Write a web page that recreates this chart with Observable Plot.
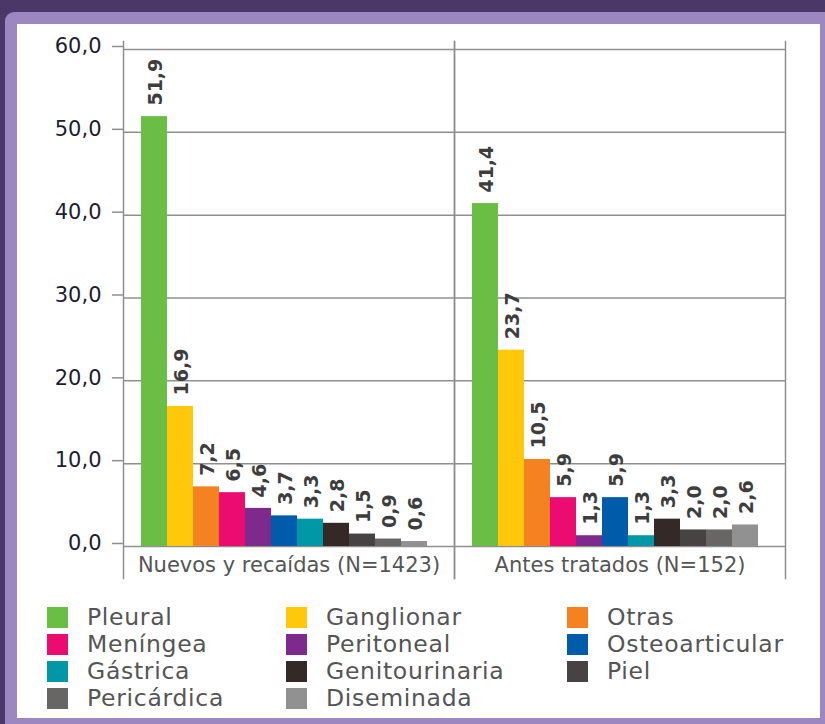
<!DOCTYPE html>
<html><head><meta charset="utf-8">
<script src="https://cdn.jsdelivr.net/npm/d3@7"></script>
<script src="https://cdn.jsdelivr.net/npm/@observablehq/plot@0.6"></script>
<style>
html,body{margin:0;padding:0}
body{background:#4b3768;width:825px;height:724px;overflow:hidden;position:relative;font-family:"DejaVu Sans",sans-serif}
#border{position:absolute;left:5px;top:12px;width:820px;height:712px;background:#9d87c1;border-top-left-radius:9px}
#panel{position:absolute;left:17px;top:24px;width:803px;height:694px;background:#fff}
#chart{position:absolute;left:0;top:0}
#legend{position:absolute;left:47px;top:604px;display:grid;grid-template-columns:239px 281px 250px;grid-auto-rows:26.9px}
.item{display:flex;align-items:center;font-size:23.5px;letter-spacing:0.7px;color:#555;white-space:nowrap}
.sw{width:21px;height:21px;margin-right:19px;flex:none}
</style>
</head><body>
<div id="border"></div><div id="panel"></div>
<div id="chart"></div>
<div id="legend"></div>
<script>
const groups = ["Nuevos y recaídas (N=1423)", "Antes tratados (N=152)"];
const categories = ["Pleural","Ganglionar","Otras","Meníngea","Peritoneal","Osteoarticular","Gástrica","Genitourinaria","Piel","Pericárdica","Diseminada"];
const colors = ["#6abd45","#ffc80a","#f58220","#ec0b70","#7e2a8c","#005baa","#0098a6","#332a28","#484343","#686665","#919191"];
const nuevos = [51.9, 16.9, 7.2, 6.5, 4.6, 3.7, 3.3, 2.8, 1.5, 0.9, 0.6];
const antes = [41.4, 23.7, 10.5, 5.9, 1.3, 5.9, 1.3, 3.3, 2.0, 2.0, 2.6];
const yTicks = [0, 10, 20, 30, 40, 50, 60];

const fmt = v => v.toFixed(1).replace(".", ",");
const rows = [];
categories.forEach((c, i) => rows.push({group: groups[0], category: c, value: nuevos[i]}));
categories.forEach((c, i) => rows.push({group: groups[1], category: c, value: antes[i]}));

const gridColor = "#8f8f8f";
const chart = Plot.plot({
  width: 825, height: 590,
  marginLeft: 123, marginRight: 40, marginTop: 41, marginBottom: 12,
  style: {fontFamily: "DejaVu Sans, sans-serif", background: "transparent", overflow: "visible"},
  fx: {domain: groups, padding: 0, axis: null},
  x: {domain: categories, paddingInner: 0, paddingOuter: 0.72, align: 0.4, axis: null},
  y: {domain: [0, 60], range: [546, 49], axis: null},
  color: {domain: categories, range: colors},
  marks: [
    Plot.ruleY(yTicks, {stroke: gridColor, strokeWidth: 1.5}),
    Plot.frame({anchor: "left", stroke: gridColor, strokeWidth: 1.5}),
    Plot.frame({anchor: "right", stroke: gridColor, strokeWidth: 1.5}),
    Plot.barY(rows, {fx: "group", x: "category", y: "value", fill: "category"}),
    Plot.text(rows, {fx: "group", x: "category", y: "value", text: d => fmt(d.value), rotate: -90, textAnchor: "start", lineAnchor: "middle", dy: -11, dx: 1, fontWeight: "bold", fontSize: 19, fill: "#3d3d3d"}),
    Plot.axisY(yTicks, {tickSize: 11, tickPadding: 11, tickFormat: fmt, stroke: gridColor, strokeWidth: 1.5, fill: "#1d1d30", fontSize: 21, dy: -3, label: null}),
    Plot.text(groups, {fx: d => d, text: d => d, frameAnchor: "bottom", dy: -7, fontSize: 21, fill: "#555"})
  ]
});
document.getElementById("chart").append(chart);

const legend = document.getElementById("legend");
categories.forEach((c, i) => {
  const it = document.createElement("div");
  it.className = "item";
  const sw = document.createElement("span");
  sw.className = "sw";
  sw.style.background = colors[i];
  it.append(sw, document.createTextNode(c));
  legend.append(it);
});
</script>
</body></html>
